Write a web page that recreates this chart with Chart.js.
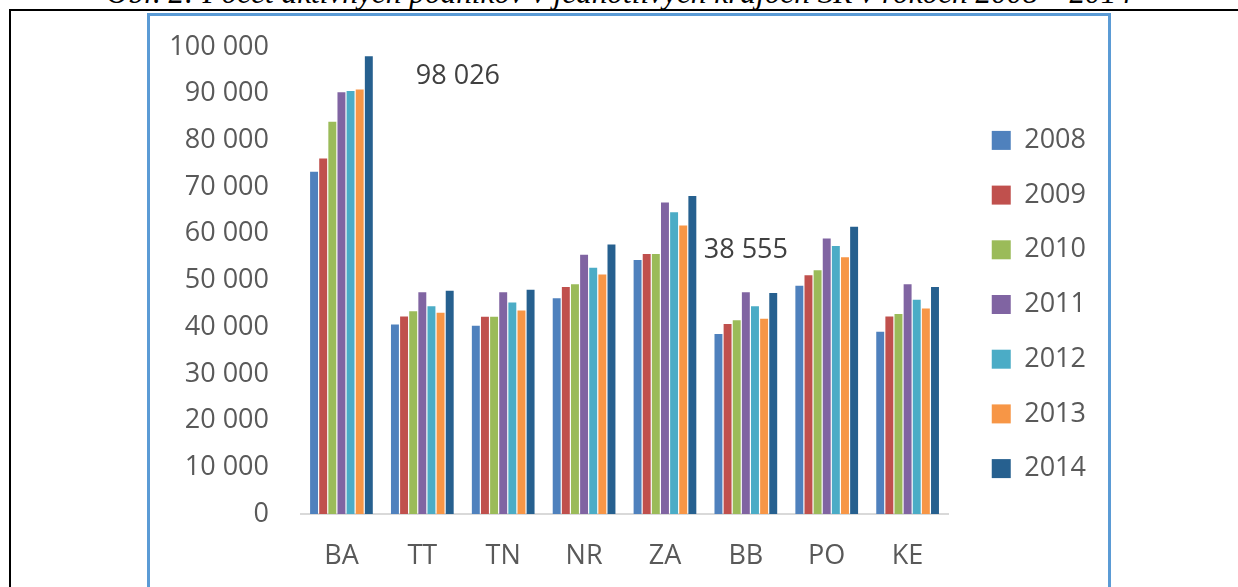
<!DOCTYPE html>
<html>
<head>
<meta charset="utf-8">
<script src="https://cdn.jsdelivr.net/npm/chart.js@4/dist/chart.umd.min.js"></script>
<style>
  html, body { margin: 0; padding: 0; background: #fff; }
  body { width: 1238px; height: 587px; position: relative; overflow: hidden; }
  .caption {
    position: absolute; left: 0; top: -23px; width: 1238px; text-align: center;
    font-family: "Liberation Serif", "DejaVu Serif", serif; font-style: italic;
    font-size: 31.3px; line-height: 31px; color: #000; white-space: nowrap;
  }
  .frame {
    position: absolute; left: 9px; top: 9px; width: 1240px; height: 600px;
    border-top: 2px solid #000; border-left: 2px solid #000; background: #fff;
  }
  .box {
    position: absolute; left: 147px; top: 13px; width: 958px; height: 590px;
    border: 3px solid #5b9bd5; background: #fff;
  }
</style>
</head>
<body>
<div class="caption">Obr. 2: Počet aktívnych podnikov v jednotlivých krajoch SR v rokoch 2008 – 2014</div>
<div class="frame"></div>
<div class="box">
  <div style="position:absolute;left:0;top:0;width:958px;height:571px;">
    <canvas id="chart"></canvas>
  </div>
</div>
<script>
const regions = ["BA", "TT", "TN", "NR", "ZA", "BB", "PO", "KE"];
const years = ["2008", "2009", "2010", "2011", "2012", "2013", "2014"];

const v2008 = [73300, 40600, 40300, 46200, 54400, 38555, 48900, 39000];
const v2009 = [76100, 42300, 42250, 48600, 55700, 40700, 51100, 42300];
const v2010 = [84000, 43400, 42250, 49200, 55700, 41500, 52200, 42800];
const v2011 = [90300, 47500, 47500, 55500, 66700, 47500, 59000, 49200];
const v2012 = [90600, 44500, 45300, 52750, 64600, 44500, 57400, 45900];
const v2013 = [90900, 43100, 43600, 51300, 61800, 41800, 55000, 44000];
const v2014 = [98026, 47800, 48000, 57700, 68100, 47300, 61500, 48600];

const yearColors = ["#4f81bd", "#c0504d", "#9bbb59", "#8064a2", "#4bacc6", "#f79646", "#26608f"];

// free-floating value notes, placed in data coordinates
const noteText = ["98 026", "38 555"];
const noteX = [1.44, 5.0];
const noteY = [93800, 56500];

const yTicks = [0, 10000, 20000, 30000, 40000, 50000, 60000, 70000, 80000, 90000, 100000];

const seriesValues = [v2008, v2009, v2010, v2011, v2012, v2013, v2014];

function spaced(n) {
    return String(n).replace(/\B(?=(\d{3})+(?!\d))/g, " ");
}

const notesPlugin = {
    id: "notes",
    afterDatasetsDraw(chart) {
        const ctx = chart.ctx;
        const x = chart.scales.x, y = chart.scales.y;
        ctx.save();
        ctx.font = "27px 'Open Sans'";
        ctx.fillStyle = "#404040";
        ctx.textAlign = "center";
        ctx.textBaseline = "middle";
        noteText.forEach((t, i) => {
            ctx.fillText(t, x.getPixelForValue(noteX[i]), y.getPixelForValue(noteY[i]));
        });
        ctx.restore();
    }
};

const FONT = { family: "'Open Sans'", size: 27 };

new Chart(document.getElementById("chart").getContext("2d"), {
    type: "bar",
    data: {
        labels: regions,
        datasets: years.map((yr, i) => ({
            label: yr,
            data: seriesValues[i],
            backgroundColor: yearColors[i],
            borderWidth: 0,
            categoryPercentage: 0.79,
            barPercentage: 0.87,
        }))
    },
    options: {
        responsive: true,
        maintainAspectRatio: false,
        animation: false,
        layout: { padding: { left: 0, right: 12, top: 6, bottom: 0 } },
        plugins: {
            legend: {
                position: "right",
                labels: {
                    font: FONT,
                    color: "#595959",
                    boxWidth: 19,
                    boxHeight: 19,
                    padding: 27.7,
                }
            },
            tooltip: { enabled: false }
        },
        scales: {
            x: {
                grid: { display: false, drawTicks: false },
                border: { display: true, color: "#d9d9d9", width: 2 },
                ticks: { font: FONT, color: "#595959", padding: 26 },
                afterFit(scale) { scale.height = 73; }
            },
            y: {
                min: 0,
                max: 100000,
                afterBuildTicks(scale) { scale.ticks = yTicks.map(v => ({ value: v })); },
                grid: { display: false, drawTicks: false },
                border: { display: false },
                ticks: {
                    font: FONT,
                    color: "#595959",
                    padding: 32,
                    callback: (v) => spaced(v)
                },
                afterFit(scale) {
                    scale.width = 151;
                    scale.paddingTop = 31;
                    scale.paddingBottom = 0;
                }
            },
            gap: {
                type: "linear",
                position: "right",
                grid: { display: false, drawTicks: false },
                border: { display: false },
                ticks: { display: false },
                afterFit(scale) { scale.width = 16; }
            }
        }
    },
    plugins: [notesPlugin]
});
</script>
</body>
</html>
